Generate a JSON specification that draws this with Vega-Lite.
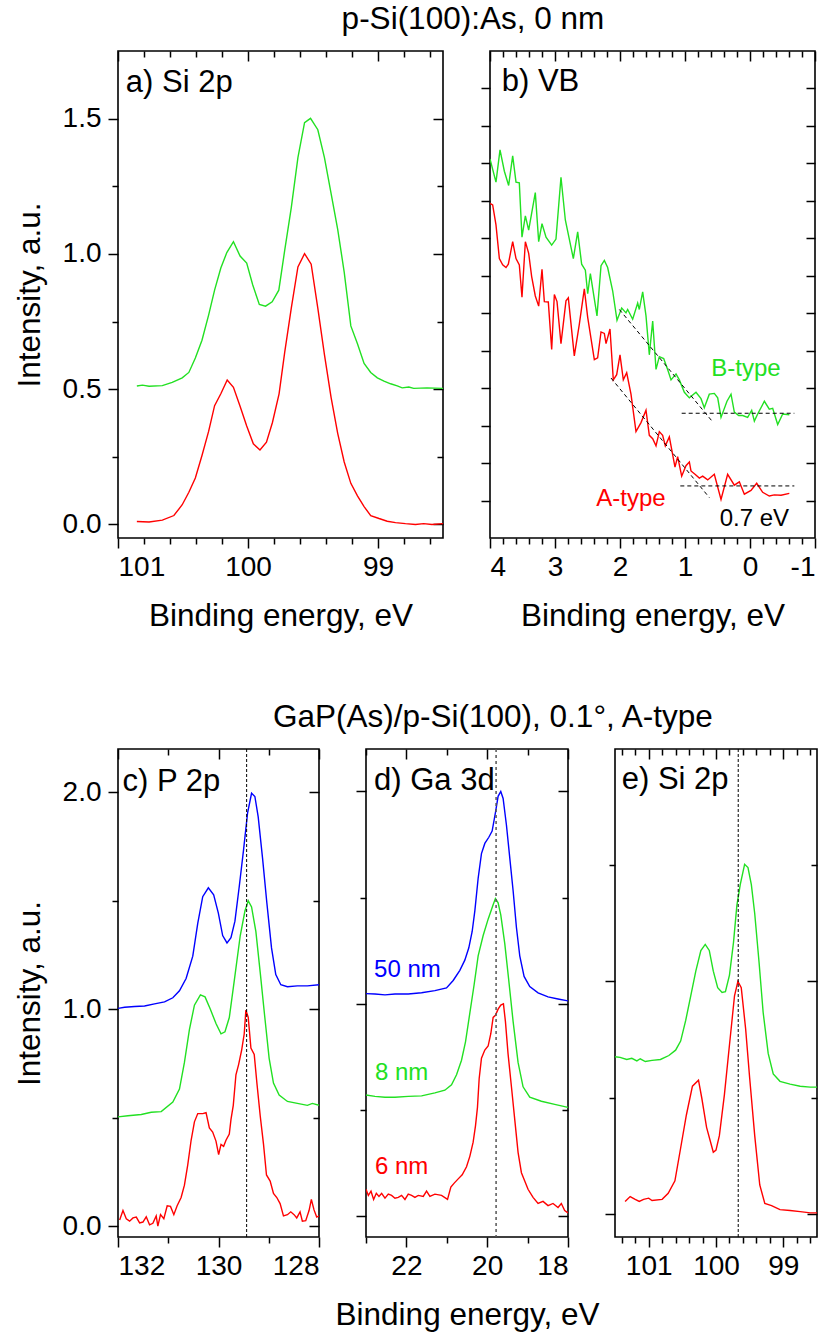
{
"$schema": "https://vega.github.io/schema/vega-lite/v6.json",
"background": "white",
"padding": {"left": 13, "top": 3, "right": 5, "bottom": 5},
"config": {
  "font": "Liberation Sans",
  "view": {"stroke": "black", "strokeWidth": 1.6},
  "axis": {"domain": false, "grid": false, "tickColor": "black", "tickWidth": 1.5, "labelFont": "Liberation Sans", "labelFontSize": 28, "labelColor": "black", "titleFont": "Liberation Sans", "titleFontSize": 31.5, "titleFontWeight": "normal", "titleColor": "black", "labelPadding": 5, "titlePadding": 19},
  "title": {"font": "Liberation Sans", "fontSize": 31.5, "fontWeight": "normal", "color": "black", "anchor": "middle", "offset": 14},
  "text": {"font": "Liberation Sans"}
},
"datasets": {
  "a_red": [{"E":100.855,"I":0.011},{"E":100.761,"I":0.009},{"E":100.659,"I":0.016},{"E":100.57,"I":0.033},{"E":100.506,"I":0.073},{"E":100.455,"I":0.119},{"E":100.405,"I":0.172},{"E":100.354,"I":0.255},{"E":100.303,"I":0.344},{"E":100.257,"I":0.439},{"E":100.209,"I":0.483},{"E":100.16,"I":0.534},{"E":100.112,"I":0.507},{"E":100.061,"I":0.437},{"E":100.01,"I":0.364},{"E":99.959,"I":0.298},{"E":99.908,"I":0.275},{"E":99.858,"I":0.304},{"E":99.812,"I":0.377},{"E":99.761,"I":0.483},{"E":99.718,"I":0.635},{"E":99.667,"I":0.8},{"E":99.616,"I":0.952},{"E":99.565,"I":1.001},{"E":99.514,"I":0.962},{"E":99.463,"I":0.8},{"E":99.412,"I":0.628},{"E":99.361,"I":0.47},{"E":99.31,"I":0.337},{"E":99.26,"I":0.231},{"E":99.209,"I":0.152},{"E":99.158,"I":0.106},{"E":99.107,"I":0.066},{"E":99.056,"I":0.033},{"E":98.992,"I":0.022},{"E":98.929,"I":0.012},{"E":98.865,"I":0.007},{"E":98.789,"I":0.003},{"E":98.712,"I":0.0},{"E":98.649,"I":0.003},{"E":98.585,"I":0.0},{"E":98.5,"I":0.003}],
  "a_green": [{"E":100.855,"I":0.512},{"E":100.812,"I":0.515},{"E":100.761,"I":0.511},{"E":100.659,"I":0.513},{"E":100.583,"I":0.525},{"E":100.506,"I":0.542},{"E":100.455,"I":0.562},{"E":100.405,"I":0.615},{"E":100.354,"I":0.681},{"E":100.303,"I":0.774},{"E":100.257,"I":0.866},{"E":100.209,"I":0.948},{"E":100.163,"I":1.005},{"E":100.112,"I":1.045},{"E":100.061,"I":0.992},{"E":100.01,"I":0.966},{"E":99.964,"I":0.886},{"E":99.913,"I":0.813},{"E":99.865,"I":0.807},{"E":99.814,"I":0.823},{"E":99.763,"I":0.866},{"E":99.718,"I":1.012},{"E":99.667,"I":1.171},{"E":99.616,"I":1.356},{"E":99.565,"I":1.485},{"E":99.519,"I":1.501},{"E":99.463,"I":1.459},{"E":99.412,"I":1.356},{"E":99.361,"I":1.224},{"E":99.31,"I":1.091},{"E":99.26,"I":0.933},{"E":99.209,"I":0.734},{"E":99.158,"I":0.668},{"E":99.107,"I":0.595},{"E":99.056,"I":0.562},{"E":99.005,"I":0.542},{"E":98.954,"I":0.53},{"E":98.903,"I":0.52},{"E":98.852,"I":0.512},{"E":98.814,"I":0.505},{"E":98.763,"I":0.508},{"E":98.725,"I":0.503},{"E":98.623,"I":0.505},{"E":98.5,"I":0.503}],
  "a_txt": [{"E":100.94,"I":1.631,"t":"a) Si 2p"}],
  "b_green": [{"E":4.0,"I":0.912},{"E":3.908,"I":0.85},{"E":3.846,"I":0.936},{"E":3.779,"I":0.879},{"E":3.713,"I":0.841},{"E":3.651,"I":0.92},{"E":3.6,"I":0.85},{"E":3.549,"I":0.848},{"E":3.508,"I":0.703},{"E":3.456,"I":0.76},{"E":3.405,"I":0.722},{"E":3.303,"I":0.822},{"E":3.251,"I":0.691},{"E":3.2,"I":0.739},{"E":3.138,"I":0.703},{"E":3.051,"I":0.682},{"E":2.985,"I":0.698},{"E":2.908,"I":0.863},{"E":2.841,"I":0.749},{"E":2.718,"I":0.646},{"E":2.651,"I":0.717},{"E":2.59,"I":0.631},{"E":2.533,"I":0.615},{"E":2.497,"I":0.552},{"E":2.456,"I":0.606},{"E":2.354,"I":0.493},{"E":2.292,"I":0.627},{"E":2.241,"I":0.641},{"E":2.19,"I":0.622},{"E":2.113,"I":0.56},{"E":2.046,"I":0.481},{"E":1.974,"I":0.514},{"E":1.908,"I":0.501},{"E":1.882,"I":0.51},{"E":1.805,"I":0.484},{"E":1.728,"I":0.527},{"E":1.703,"I":0.51},{"E":1.651,"I":0.557},{"E":1.6,"I":0.493},{"E":1.549,"I":0.389},{"E":1.497,"I":0.479},{"E":1.446,"I":0.35},{"E":1.395,"I":0.384},{"E":1.328,"I":0.379},{"E":1.267,"I":0.35},{"E":1.215,"I":0.322},{"E":1.138,"I":0.338},{"E":1.087,"I":0.322},{"E":1.01,"I":0.289},{"E":0.933,"I":0.274},{"E":0.831,"I":0.289},{"E":0.754,"I":0.272},{"E":0.703,"I":0.248},{"E":0.626,"I":0.284},{"E":0.549,"I":0.286},{"E":0.497,"I":0.274},{"E":0.446,"I":0.222},{"E":0.354,"I":0.265},{"E":0.292,"I":0.284},{"E":0.241,"I":0.236},{"E":0.174,"I":0.227},{"E":0.113,"I":0.227},{"E":0.036,"I":0.222},{"E":-0.026,"I":0.241},{"E":-0.067,"I":0.212},{"E":-0.118,"I":0.231},{"E":-0.221,"I":0.265},{"E":-0.297,"I":0.244},{"E":-0.349,"I":0.246},{"E":-0.426,"I":0.203},{"E":-0.503,"I":0.231},{"E":-0.605,"I":0.229}],
  "b_red": [{"E":4.0,"I":0.793},{"E":3.959,"I":0.789},{"E":3.908,"I":0.736},{"E":3.856,"I":0.646},{"E":3.805,"I":0.629},{"E":3.754,"I":0.622},{"E":3.718,"I":0.631},{"E":3.651,"I":0.691},{"E":3.6,"I":0.646},{"E":3.549,"I":0.629},{"E":3.508,"I":0.543},{"E":3.456,"I":0.691},{"E":3.405,"I":0.66},{"E":3.359,"I":0.598},{"E":3.303,"I":0.546},{"E":3.251,"I":0.519},{"E":3.2,"I":0.617},{"E":3.164,"I":0.531},{"E":3.103,"I":0.53},{"E":3.051,"I":0.403},{"E":3.01,"I":0.55},{"E":2.969,"I":0.531},{"E":2.908,"I":0.419},{"E":2.831,"I":0.533},{"E":2.795,"I":0.541},{"E":2.703,"I":0.386},{"E":2.626,"I":0.47},{"E":2.549,"I":0.565},{"E":2.497,"I":0.489},{"E":2.395,"I":0.376},{"E":2.344,"I":0.381},{"E":2.292,"I":0.45},{"E":2.241,"I":0.446},{"E":2.215,"I":0.419},{"E":2.154,"I":0.458},{"E":2.103,"I":0.322},{"E":2.051,"I":0.336},{"E":2.0,"I":0.389},{"E":1.949,"I":0.322},{"E":1.897,"I":0.341},{"E":1.831,"I":0.284},{"E":1.754,"I":0.184},{"E":1.677,"I":0.208},{"E":1.6,"I":0.241},{"E":1.549,"I":0.174},{"E":1.497,"I":0.165},{"E":1.446,"I":0.146},{"E":1.395,"I":0.184},{"E":1.344,"I":0.174},{"E":1.303,"I":0.146},{"E":1.241,"I":0.17},{"E":1.154,"I":0.089},{"E":1.113,"I":0.117},{"E":1.051,"I":0.065},{"E":0.985,"I":0.093},{"E":0.933,"I":0.103},{"E":0.908,"I":0.079},{"E":0.846,"I":0.07},{"E":0.779,"I":0.06},{"E":0.728,"I":0.065},{"E":0.651,"I":0.055},{"E":0.549,"I":0.07},{"E":0.446,"I":0.003},{"E":0.344,"I":0.07},{"E":0.241,"I":0.041},{"E":0.164,"I":0.05},{"E":0.087,"I":0.017},{"E":-0.015,"I":0.027},{"E":-0.103,"I":0.046},{"E":-0.195,"I":0.022},{"E":-0.297,"I":0.012},{"E":-0.374,"I":0.015},{"E":-0.477,"I":0.014},{"E":-0.605,"I":0.019}],
  "b_dash": [{"E1":2.01,"I1":0.51,"E2":0.574,"I2":0.21},{"E1":1.051,"I1":0.233,"E2":-0.682,"I2":0.233},{"E1":2.138,"I1":0.327,"E2":0.626,"I2":0.008},{"E1":1.072,"I1":0.039,"E2":-0.682,"I2":0.039}],
  "b_txt": [{"E":3.82,"I":1.117,"t":"b) VB"}],
  "b_green_txt": [{"E":0.062,"I":0.35,"t":"B-type"}],
  "b_red_txt": [{"E":1.831,"I":0.003,"t":"A-type"}],
  "b_black_txt": [{"E":-0.067,"I":-0.05,"t":"0.7 eV"}],
  "c_blue": [{"E":132.0,"I":1.004},{"E":131.868,"I":1.009},{"E":131.669,"I":1.013},{"E":131.471,"I":1.015},{"E":131.273,"I":1.025},{"E":131.074,"I":1.034},{"E":130.909,"I":1.053},{"E":130.777,"I":1.085},{"E":130.645,"I":1.142},{"E":130.512,"I":1.245},{"E":130.413,"I":1.396},{"E":130.314,"I":1.519},{"E":130.202,"I":1.56},{"E":130.096,"I":1.528},{"E":130.003,"I":1.443},{"E":129.917,"I":1.34},{"E":129.831,"I":1.306},{"E":129.752,"I":1.33},{"E":129.673,"I":1.406},{"E":129.587,"I":1.566},{"E":129.501,"I":1.736},{"E":129.421,"I":1.906},{"E":129.342,"I":1.996},{"E":129.276,"I":1.981},{"E":129.21,"I":1.887},{"E":129.124,"I":1.698},{"E":129.038,"I":1.491},{"E":128.945,"I":1.283},{"E":128.86,"I":1.16},{"E":128.76,"I":1.113},{"E":128.628,"I":1.104},{"E":128.43,"I":1.108},{"E":128.231,"I":1.108},{"E":128.0,"I":1.113}],
  "c_green": [{"E":132.0,"I":0.504},{"E":131.802,"I":0.509},{"E":131.537,"I":0.515},{"E":131.339,"I":0.525},{"E":131.14,"I":0.528},{"E":130.909,"I":0.572},{"E":130.777,"I":0.632},{"E":130.678,"I":0.755},{"E":130.579,"I":0.906},{"E":130.479,"I":1.019},{"E":130.36,"I":1.066},{"E":130.268,"I":1.057},{"E":130.162,"I":1.0},{"E":130.05,"I":0.934},{"E":129.95,"I":0.887},{"E":129.871,"I":0.896},{"E":129.785,"I":0.962},{"E":129.686,"I":1.132},{"E":129.567,"I":1.34},{"E":129.474,"I":1.453},{"E":129.408,"I":1.5},{"E":129.342,"I":1.472},{"E":129.256,"I":1.358},{"E":129.17,"I":1.17},{"E":129.078,"I":0.962},{"E":128.992,"I":0.774},{"E":128.906,"I":0.66},{"E":128.793,"I":0.604},{"E":128.628,"I":0.575},{"E":128.43,"I":0.566},{"E":128.231,"I":0.557},{"E":128.132,"I":0.566},{"E":128.0,"I":0.557}],
  "c_red": [{"E":131.967,"I":0.028},{"E":131.901,"I":0.072},{"E":131.835,"I":0.034},{"E":131.769,"I":0.023},{"E":131.702,"I":0.038},{"E":131.636,"I":0.042},{"E":131.57,"I":0.015},{"E":131.504,"I":0.019},{"E":131.438,"I":0.043},{"E":131.372,"I":0.006},{"E":131.306,"I":0.013},{"E":131.24,"I":0.047},{"E":131.207,"I":0.0},{"E":131.154,"I":0.053},{"E":131.088,"I":0.034},{"E":131.021,"I":0.094},{"E":130.955,"I":0.091},{"E":130.889,"I":0.053},{"E":130.823,"I":0.094},{"E":130.744,"I":0.132},{"E":130.678,"I":0.189},{"E":130.612,"I":0.283},{"E":130.545,"I":0.396},{"E":130.479,"I":0.481},{"E":130.413,"I":0.519},{"E":130.314,"I":0.519},{"E":130.248,"I":0.523},{"E":130.182,"I":0.453},{"E":130.116,"I":0.434},{"E":130.05,"I":0.392},{"E":129.997,"I":0.33},{"E":129.95,"I":0.377},{"E":129.898,"I":0.368},{"E":129.851,"I":0.396},{"E":129.785,"I":0.425},{"E":129.752,"I":0.491},{"E":129.706,"I":0.557},{"E":129.653,"I":0.698},{"E":129.6,"I":0.745},{"E":129.54,"I":0.811},{"E":129.488,"I":0.887},{"E":129.455,"I":0.996},{"E":129.408,"I":0.962},{"E":129.355,"I":0.821},{"E":129.289,"I":0.792},{"E":129.236,"I":0.66},{"E":129.17,"I":0.509},{"E":129.104,"I":0.377},{"E":129.045,"I":0.236},{"E":128.972,"I":0.208},{"E":128.906,"I":0.151},{"E":128.84,"I":0.132},{"E":128.774,"I":0.104},{"E":128.707,"I":0.047},{"E":128.628,"I":0.053},{"E":128.562,"I":0.066},{"E":128.496,"I":0.053},{"E":128.443,"I":0.038},{"E":128.377,"I":0.066},{"E":128.331,"I":0.023},{"E":128.264,"I":0.025},{"E":128.198,"I":0.072},{"E":128.152,"I":0.123},{"E":128.099,"I":0.075},{"E":128.046,"I":0.042},{"E":128.0,"I":0.047}],
  "c_ref": [{"E":129.44}],
  "c_txt": [{"E":131.91,"I":2.046,"t":"c) P 2p"}],
  "d_blue": [{"E":23.0,"I":1.047},{"E":22.778,"I":1.045},{"E":22.53,"I":1.041},{"E":22.283,"I":1.045},{"E":21.954,"I":1.045},{"E":21.624,"I":1.051},{"E":21.295,"I":1.061},{"E":21.007,"I":1.074},{"E":20.842,"I":1.109},{"E":20.677,"I":1.157},{"E":20.554,"I":1.205},{"E":20.455,"I":1.263},{"E":20.372,"I":1.34},{"E":20.306,"I":1.437},{"E":20.224,"I":1.591},{"E":20.142,"I":1.707},{"E":20.059,"I":1.755},{"E":19.96,"I":1.784},{"E":19.878,"I":1.813},{"E":19.796,"I":1.9},{"E":19.73,"I":1.977},{"E":19.664,"I":2.0},{"E":19.606,"I":1.967},{"E":19.524,"I":1.842},{"E":19.442,"I":1.688},{"E":19.359,"I":1.533},{"E":19.277,"I":1.36},{"E":19.194,"I":1.225},{"E":19.087,"I":1.128},{"E":18.947,"I":1.08},{"E":18.741,"I":1.051},{"E":18.494,"I":1.032},{"E":18.247,"I":1.022},{"E":18.0,"I":1.013}],
  "d_green": [{"E":23.0,"I":0.569},{"E":22.778,"I":0.563},{"E":22.53,"I":0.559},{"E":22.283,"I":0.559},{"E":21.954,"I":0.563},{"E":21.624,"I":0.565},{"E":21.295,"I":0.579},{"E":21.048,"I":0.592},{"E":20.883,"I":0.617},{"E":20.759,"I":0.665},{"E":20.636,"I":0.733},{"E":20.537,"I":0.82},{"E":20.43,"I":0.955},{"E":20.323,"I":1.09},{"E":20.224,"I":1.225},{"E":20.1,"I":1.321},{"E":19.977,"I":1.398},{"E":19.853,"I":1.466},{"E":19.796,"I":1.495},{"E":19.73,"I":1.475},{"E":19.664,"I":1.418},{"E":19.565,"I":1.283},{"E":19.466,"I":1.109},{"E":19.359,"I":0.916},{"E":19.236,"I":0.723},{"E":19.112,"I":0.608},{"E":18.947,"I":0.559},{"E":18.659,"I":0.54},{"E":18.329,"I":0.525},{"E":18.0,"I":0.511}],
  "d_red": [{"E":23.0,"I":0.125},{"E":22.942,"I":0.096},{"E":22.876,"I":0.116},{"E":22.811,"I":0.077},{"E":22.745,"I":0.106},{"E":22.679,"I":0.091},{"E":22.613,"I":0.106},{"E":22.53,"I":0.083},{"E":22.448,"I":0.102},{"E":22.366,"I":0.096},{"E":22.283,"I":0.083},{"E":22.201,"I":0.087},{"E":22.119,"I":0.096},{"E":22.036,"I":0.077},{"E":21.954,"I":0.102},{"E":21.871,"I":0.096},{"E":21.789,"I":0.087},{"E":21.707,"I":0.096},{"E":21.583,"I":0.091},{"E":21.501,"I":0.116},{"E":21.418,"I":0.091},{"E":21.295,"I":0.102},{"E":21.13,"I":0.096},{"E":20.982,"I":0.077},{"E":20.9,"I":0.135},{"E":20.817,"I":0.154},{"E":20.718,"I":0.174},{"E":20.619,"I":0.193},{"E":20.512,"I":0.231},{"E":20.43,"I":0.28},{"E":20.348,"I":0.347},{"E":20.29,"I":0.424},{"E":20.241,"I":0.511},{"E":20.199,"I":0.646},{"E":20.142,"I":0.743},{"E":20.059,"I":0.781},{"E":19.977,"I":0.8},{"E":19.911,"I":0.858},{"E":19.853,"I":0.935},{"E":19.796,"I":0.945},{"E":19.73,"I":0.974},{"E":19.664,"I":0.993},{"E":19.598,"I":0.999},{"E":19.549,"I":0.916},{"E":19.483,"I":0.762},{"E":19.4,"I":0.608},{"E":19.318,"I":0.453},{"E":19.236,"I":0.299},{"E":19.153,"I":0.203},{"E":19.071,"I":0.164},{"E":18.989,"I":0.125},{"E":18.865,"I":0.087},{"E":18.741,"I":0.058},{"E":18.618,"I":0.068},{"E":18.494,"I":0.048},{"E":18.371,"I":0.058},{"E":18.247,"I":0.039},{"E":18.165,"I":0.058},{"E":18.082,"I":0.025},{"E":18.0,"I":0.014}],
  "d_ref": [{"E":19.78}],
  "d_txt": [{"E":22.8,"I":2.05,"t":"d) Ga 3d"}],
  "d_blue_txt": [{"E":22.8,"I":1.157,"t":"50 nm"}],
  "d_green_txt": [{"E":22.78,"I":0.675,"t":"8 nm"}],
  "d_red_txt": [{"E":22.78,"I":0.231,"t":"6 nm"}],
  "e_green": [{"E":101.5,"I":0.676},{"E":101.425,"I":0.673},{"E":101.325,"I":0.664},{"E":101.25,"I":0.669},{"E":101.175,"I":0.658},{"E":101.125,"I":0.667},{"E":101.05,"I":0.655},{"E":100.95,"I":0.66},{"E":100.825,"I":0.664},{"E":100.7,"I":0.681},{"E":100.6,"I":0.704},{"E":100.525,"I":0.743},{"E":100.45,"I":0.832},{"E":100.375,"I":0.938},{"E":100.3,"I":1.044},{"E":100.225,"I":1.133},{"E":100.16,"I":1.159},{"E":100.1,"I":1.133},{"E":100.04,"I":1.044},{"E":99.975,"I":0.973},{"E":99.91,"I":0.952},{"E":99.86,"I":0.956},{"E":99.8,"I":1.027},{"E":99.74,"I":1.168},{"E":99.69,"I":1.327},{"E":99.64,"I":1.416},{"E":99.575,"I":1.504},{"E":99.525,"I":1.49},{"E":99.475,"I":1.416},{"E":99.425,"I":1.292},{"E":99.36,"I":1.08},{"E":99.3,"I":0.867},{"E":99.225,"I":0.69},{"E":99.15,"I":0.602},{"E":99.05,"I":0.57},{"E":98.9,"I":0.558},{"E":98.75,"I":0.549},{"E":98.6,"I":0.545},{"E":98.5,"I":0.545}],
  "e_red": [{"E":101.35,"I":0.053},{"E":101.275,"I":0.074},{"E":101.2,"I":0.062},{"E":101.14,"I":0.053},{"E":101.075,"I":0.062},{"E":101.0,"I":0.067},{"E":100.95,"I":0.057},{"E":100.8,"I":0.062},{"E":100.71,"I":0.088},{"E":100.61,"I":0.142},{"E":100.525,"I":0.283},{"E":100.44,"I":0.425},{"E":100.35,"I":0.549},{"E":100.26,"I":0.575},{"E":100.21,"I":0.496},{"E":100.14,"I":0.372},{"E":100.04,"I":0.265},{"E":100.0,"I":0.274},{"E":99.95,"I":0.336},{"E":99.875,"I":0.513},{"E":99.8,"I":0.726},{"E":99.725,"I":0.938},{"E":99.675,"I":1.0},{"E":99.625,"I":0.973},{"E":99.56,"I":0.796},{"E":99.5,"I":0.584},{"E":99.425,"I":0.336},{"E":99.35,"I":0.124},{"E":99.275,"I":0.044},{"E":99.175,"I":0.035},{"E":99.05,"I":0.018},{"E":98.9,"I":0.014},{"E":98.75,"I":0.009},{"E":98.6,"I":0.004},{"E":98.5,"I":0.004}],
  "e_ref": [{"E":99.67}],
  "e_txt": [{"E":101.4,"I":1.867,"t":"e) Si 2p"}]
},
"bounds": "full",
"spacing": 68,
"vconcat": [
 {
  "title": {"text": "p-Si(100):As, 0 nm", "dx": 58},
  "bounds": "flush",
  "spacing": 47,
  "hconcat": [
   {
    "width": 325, "height": 487,
    "resolve": {"axis": {"x": "independent", "y": "independent"}},
    "layer": [
     {"data": {"name": "a_red"}, "mark": {"type": "line", "color": "#ff0000", "strokeWidth": 1.4, "clip": true},
      "encoding": {
       "x": {"field": "E", "type": "quantitative", "scale": {"domain": [98.5, 101], "reverse": true, "nice": false, "zero": false},
             "axis": {"orient": "bottom", "title": "Binding energy, eV", "values": [101,100.8,100.6,100.4,100.2,100,99.8,99.6,99.4,99.2,99,98.8,98.6],
                      "tickSize": {"condition": {"test": "abs(datum.value-round(datum.value))<0.01", "value": 10}, "value": 6},
                      "labelExpr": "abs(datum.value-round(datum.value))<0.01 ? ''+round(datum.value) : ''"}},
       "y": {"field": "I", "type": "quantitative", "scale": {"domain": [-0.05, 1.75], "nice": false, "zero": false},
             "axis": {"orient": "left", "title": "Intensity, a.u.", "labelPadding": 7, "titlePadding": 16, "values": [0,0.25,0.5,0.75,1,1.25,1.5],
                      "tickSize": {"condition": {"test": "datum.value % 0.5 == 0", "value": 10}, "value": 6},
                      "labelExpr": "datum.value % 0.5 == 0 ? format(datum.value, '.1f') : ''"}}
      }},
     {"data": {"name": "a_green"}, "mark": {"type": "line", "color": "#22e022", "strokeWidth": 1.4, "clip": true},
      "encoding": {
       "x": {"field": "E", "type": "quantitative",
             "axis": {"orient": "top", "title": null, "labels": false, "values": [101,100.8,100.6,100.4,100.2,100,99.8,99.6,99.4,99.2,99,98.8,98.6],
                      "tickSize": {"condition": {"test": "abs(datum.value-round(datum.value))<0.01", "value": -10}, "value": -6}}},
       "y": {"field": "I", "type": "quantitative",
             "axis": {"orient": "right", "title": null, "labels": false, "values": [0,0.25,0.5,0.75,1,1.25,1.5],
                      "tickSize": {"condition": {"test": "datum.value % 0.5 == 0", "value": -10}, "value": -6}}}
      }},
     {"data": {"name": "a_txt"}, "mark": {"type": "text", "align": "left", "baseline": "middle", "fontSize": 31, "color": "black"},
      "encoding": {"x": {"field": "E", "type": "quantitative", "axis": null}, "y": {"field": "I", "type": "quantitative", "axis": null}, "text": {"field": "t"}}}
    ]
   },
   {
    "width": 325, "height": 487,
    "resolve": {"axis": {"x": "independent", "y": "independent"}},
    "layer": [
     {"data": {"name": "b_red"}, "mark": {"type": "line", "color": "#ff0000", "strokeWidth": 1.4, "clip": true},
      "encoding": {
       "x": {"field": "E", "type": "quantitative", "scale": {"domain": [-1, 4], "reverse": true, "nice": false, "zero": false},
             "axis": {"orient": "bottom", "title": "Binding energy, eV", "values": [4,3.8,3.6,3.4,3.2,3,2.8,2.6,2.4,2.2,2,1.8,1.6,1.4,1.2,1,0.8,0.6,0.4,0.2,0,-0.2,-0.4,-0.6,-0.8,-1],
                      "tickSize": {"condition": {"test": "abs(datum.value-round(datum.value))<0.01", "value": 10}, "value": 6},
                      "labelExpr": "abs(datum.value-round(datum.value))<0.01 ? ''+round(datum.value) : ''"}},
       "y": {"field": "I", "type": "quantitative", "scale": {"domain": [-0.1, 1.2], "nice": false, "zero": false},
             "axis": {"orient": "left", "title": null, "labels": false, "values": [0,0.1,0.2,0.3,0.4,0.5,0.6,0.7,0.8,0.9,1.0,1.1], "tickSize": 9}}
      }},
     {"data": {"name": "b_green"}, "mark": {"type": "line", "color": "#22e022", "strokeWidth": 1.4, "clip": true},
      "encoding": {
       "x": {"field": "E", "type": "quantitative",
             "axis": {"orient": "top", "title": null, "labels": false, "values": [4,3.8,3.6,3.4,3.2,3,2.8,2.6,2.4,2.2,2,1.8,1.6,1.4,1.2,1,0.8,0.6,0.4,0.2,0,-0.2,-0.4,-0.6,-0.8,-1],
                      "tickSize": {"condition": {"test": "abs(datum.value-round(datum.value))<0.01", "value": -10}, "value": -6}}},
       "y": {"field": "I", "type": "quantitative",
             "axis": {"orient": "right", "title": null, "labels": false, "values": [0,0.1,0.2,0.3,0.4,0.5,0.6,0.7,0.8,0.9,1.0,1.1], "tickSize": -9}}
      }},
     {"data": {"name": "b_dash"}, "mark": {"type": "rule", "color": "black", "strokeWidth": 1, "strokeDash": [4, 3]},
      "encoding": {"x": {"field": "E1", "type": "quantitative", "axis": null}, "y": {"field": "I1", "type": "quantitative", "axis": null}, "x2": {"field": "E2"}, "y2": {"field": "I2"}}},
     {"data": {"name": "b_txt"}, "mark": {"type": "text", "align": "left", "baseline": "middle", "fontSize": 31, "color": "black"},
      "encoding": {"x": {"field": "E", "type": "quantitative", "axis": null}, "y": {"field": "I", "type": "quantitative", "axis": null}, "text": {"field": "t"}}},
     {"data": {"name": "b_green_txt"}, "mark": {"type": "text", "align": "center", "baseline": "middle", "fontSize": 24, "color": "#22e022"},
      "encoding": {"x": {"field": "E", "type": "quantitative", "axis": null}, "y": {"field": "I", "type": "quantitative", "axis": null}, "text": {"field": "t"}}},
     {"data": {"name": "b_red_txt"}, "mark": {"type": "text", "align": "center", "baseline": "middle", "fontSize": 24, "color": "#ff0000"},
      "encoding": {"x": {"field": "E", "type": "quantitative", "axis": null}, "y": {"field": "I", "type": "quantitative", "axis": null}, "text": {"field": "t"}}},
     {"data": {"name": "b_black_txt"}, "mark": {"type": "text", "align": "center", "baseline": "middle", "fontSize": 24, "color": "black"},
      "encoding": {"x": {"field": "E", "type": "quantitative", "axis": null}, "y": {"field": "I", "type": "quantitative", "axis": null}, "text": {"field": "t"}}}
    ]
   }
  ]
 },
 {
  "title": {"text": "GaP(As)/p-Si(100), 0.1°, A-type", "dx": 77},
  "bounds": "flush",
  "spacing": 47,
  "hconcat": [
   {
    "width": 201, "height": 488,
    "resolve": {"axis": {"x": "independent", "y": "independent"}},
    "layer": [
     {"data": {"name": "c_red"}, "mark": {"type": "line", "color": "#ff0000", "strokeWidth": 1.4, "clip": true},
      "encoding": {
       "x": {"field": "E", "type": "quantitative", "scale": {"domain": [128, 132], "reverse": true, "nice": false, "zero": false},
             "axis": {"orient": "bottom", "title": null, "values": [132,131,130,129,128],
                      "tickSize": {"condition": {"test": "datum.value % 2 == 0", "value": 10}, "value": 6},
                      "labelExpr": "datum.value % 2 == 0 ? ''+datum.value : ''"}},
       "y": {"field": "I", "type": "quantitative", "scale": {"domain": [-0.05, 2.2], "nice": false, "zero": false},
             "axis": {"orient": "left", "title": "Intensity, a.u.", "labelPadding": 7, "titlePadding": 16, "values": [0,0.5,1,1.5,2],
                      "tickSize": {"condition": {"test": "datum.value % 1 == 0", "value": 10}, "value": 6},
                      "labelExpr": "datum.value % 1 == 0 ? format(datum.value, '.1f') : ''"}}
      }},
     {"data": {"name": "c_green"}, "mark": {"type": "line", "color": "#22e022", "strokeWidth": 1.4, "clip": true},
      "encoding": {
       "x": {"field": "E", "type": "quantitative",
             "axis": {"orient": "top", "title": null, "labels": false, "values": [132,131,130,129,128],
                      "tickSize": {"condition": {"test": "datum.value % 2 == 0", "value": -10}, "value": -6}}},
       "y": {"field": "I", "type": "quantitative",
             "axis": {"orient": "right", "title": null, "labels": false, "values": [0,0.5,1,1.5,2],
                      "tickSize": {"condition": {"test": "datum.value % 1 == 0", "value": -10}, "value": -6}}}
      }},
     {"data": {"name": "c_blue"}, "mark": {"type": "line", "color": "#0000ff", "strokeWidth": 1.4, "clip": true},
      "encoding": {"x": {"field": "E", "type": "quantitative", "axis": null}, "y": {"field": "I", "type": "quantitative", "axis": null}}},
     {"data": {"name": "c_ref"}, "mark": {"type": "rule", "color": "black", "strokeWidth": 1, "strokeDash": [3, 2]},
      "encoding": {"x": {"field": "E", "type": "quantitative", "axis": null}}},
     {"data": {"name": "c_txt"}, "mark": {"type": "text", "align": "left", "baseline": "middle", "fontSize": 31, "color": "black"},
      "encoding": {"x": {"field": "E", "type": "quantitative", "axis": null}, "y": {"field": "I", "type": "quantitative", "axis": null}, "text": {"field": "t"}}}
    ]
   },
   {
    "width": 202, "height": 488,
    "resolve": {"axis": {"x": "independent", "y": "independent"}},
    "layer": [
     {"data": {"name": "d_red"}, "mark": {"type": "line", "color": "#ff0000", "strokeWidth": 1.4, "clip": true},
      "encoding": {
       "x": {"field": "E", "type": "quantitative", "scale": {"domain": [18, 23], "reverse": true, "nice": false, "zero": false},
             "axis": {"orient": "bottom", "title": "Binding energy, eV", "values": [23,22,21,20,19,18],
                      "tickSize": {"condition": {"test": "datum.value % 2 == 0", "value": 10}, "value": 6},
                      "labelExpr": "datum.value % 2 == 0 ? ''+datum.value : ''"}},
       "y": {"field": "I", "type": "quantitative", "scale": {"domain": [-0.1, 2.2], "nice": false, "zero": false},
             "axis": {"orient": "left", "title": null, "labels": false, "values": [0,0.5,1,1.5,2],
                      "tickSize": {"condition": {"test": "datum.value % 1 == 0", "value": 10}, "value": 6}}}
      }},
     {"data": {"name": "d_green"}, "mark": {"type": "line", "color": "#22e022", "strokeWidth": 1.4, "clip": true},
      "encoding": {
       "x": {"field": "E", "type": "quantitative",
             "axis": {"orient": "top", "title": null, "labels": false, "values": [23,22,21,20,19,18],
                      "tickSize": {"condition": {"test": "datum.value % 2 == 0", "value": -10}, "value": -6}}},
       "y": {"field": "I", "type": "quantitative",
             "axis": {"orient": "right", "title": null, "labels": false, "values": [0,0.5,1,1.5,2],
                      "tickSize": {"condition": {"test": "datum.value % 1 == 0", "value": -10}, "value": -6}}}
      }},
     {"data": {"name": "d_blue"}, "mark": {"type": "line", "color": "#0000ff", "strokeWidth": 1.4, "clip": true},
      "encoding": {"x": {"field": "E", "type": "quantitative", "axis": null}, "y": {"field": "I", "type": "quantitative", "axis": null}}},
     {"data": {"name": "d_ref"}, "mark": {"type": "rule", "color": "#555555", "strokeWidth": 1.5, "strokeDash": [3, 3]},
      "encoding": {"x": {"field": "E", "type": "quantitative", "axis": null}}},
     {"data": {"name": "d_txt"}, "mark": {"type": "text", "align": "left", "baseline": "middle", "fontSize": 31, "color": "black"},
      "encoding": {"x": {"field": "E", "type": "quantitative", "axis": null}, "y": {"field": "I", "type": "quantitative", "axis": null}, "text": {"field": "t"}}},
     {"data": {"name": "d_blue_txt"}, "mark": {"type": "text", "align": "left", "baseline": "middle", "fontSize": 24, "color": "#0000ff"},
      "encoding": {"x": {"field": "E", "type": "quantitative", "axis": null}, "y": {"field": "I", "type": "quantitative", "axis": null}, "text": {"field": "t"}}},
     {"data": {"name": "d_green_txt"}, "mark": {"type": "text", "align": "left", "baseline": "middle", "fontSize": 24, "color": "#22e022"},
      "encoding": {"x": {"field": "E", "type": "quantitative", "axis": null}, "y": {"field": "I", "type": "quantitative", "axis": null}, "text": {"field": "t"}}},
     {"data": {"name": "d_red_txt"}, "mark": {"type": "text", "align": "left", "baseline": "middle", "fontSize": 24, "color": "#ff0000"},
      "encoding": {"x": {"field": "E", "type": "quantitative", "axis": null}, "y": {"field": "I", "type": "quantitative", "axis": null}, "text": {"field": "t"}}}
    ]
   },
   {
    "width": 202, "height": 488,
    "resolve": {"axis": {"x": "independent", "y": "independent"}},
    "layer": [
     {"data": {"name": "e_red"}, "mark": {"type": "line", "color": "#ff0000", "strokeWidth": 1.4, "clip": true},
      "encoding": {
       "x": {"field": "E", "type": "quantitative", "scale": {"domain": [98.5, 101.5], "reverse": true, "nice": false, "zero": false},
             "axis": {"orient": "bottom", "title": null, "values": [101.4,101.2,101,100.8,100.6,100.4,100.2,100,99.8,99.6,99.4,99.2,99,98.8,98.6],
                      "tickSize": {"condition": {"test": "abs(datum.value-round(datum.value))<0.01", "value": 10}, "value": 6},
                      "labelExpr": "abs(datum.value-round(datum.value))<0.01 ? ''+round(datum.value) : ''"}},
       "y": {"field": "I", "type": "quantitative", "scale": {"domain": [-0.1, 2.0], "nice": false, "zero": false},
             "axis": {"orient": "left", "title": null, "labels": false, "values": [0,0.5,1,1.5],
                      "tickSize": {"condition": {"test": "datum.value % 1 == 0", "value": 10}, "value": 6}}}
      }},
     {"data": {"name": "e_green"}, "mark": {"type": "line", "color": "#22e022", "strokeWidth": 1.4, "clip": true},
      "encoding": {
       "x": {"field": "E", "type": "quantitative",
             "axis": {"orient": "top", "title": null, "labels": false, "values": [101.4,101.2,101,100.8,100.6,100.4,100.2,100,99.8,99.6,99.4,99.2,99,98.8,98.6],
                      "tickSize": {"condition": {"test": "abs(datum.value-round(datum.value))<0.01", "value": -10}, "value": -6}}},
       "y": {"field": "I", "type": "quantitative",
             "axis": {"orient": "right", "title": null, "labels": false, "values": [0,0.5,1,1.5],
                      "tickSize": {"condition": {"test": "datum.value % 1 == 0", "value": -10}, "value": -6}}}
      }},
     {"data": {"name": "e_ref"}, "mark": {"type": "rule", "color": "black", "strokeWidth": 1, "strokeDash": [3, 2]},
      "encoding": {"x": {"field": "E", "type": "quantitative", "axis": null}}},
     {"data": {"name": "e_txt"}, "mark": {"type": "text", "align": "left", "baseline": "middle", "fontSize": 31, "color": "black"},
      "encoding": {"x": {"field": "E", "type": "quantitative", "axis": null}, "y": {"field": "I", "type": "quantitative", "axis": null}, "text": {"field": "t"}}}
    ]
   }
  ]
 }
]
}
